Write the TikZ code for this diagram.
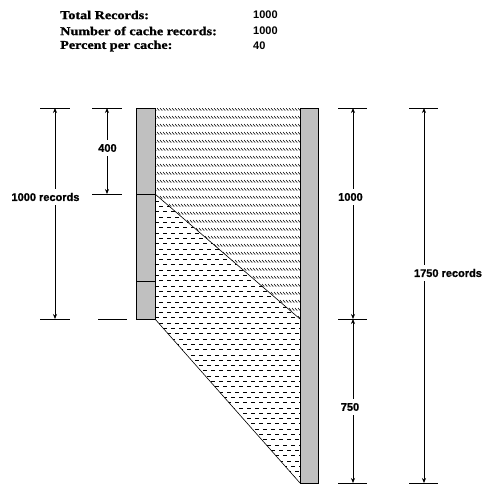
\documentclass[tikz,border=0pt]{standalone}
\usepackage{fontspec}
\setmainfont{Liberation Sans}
\newfontfamily\hdrfont[FakeStretch=1.18,FakeBold=1.2]{Liberation Serif}
\newfontfamily\lblfont[FakeBold=1.2]{Liberation Sans}
\usetikzlibrary{arrows.meta}
\definecolor{bargray}{RGB}{192,192,192}
\tikzset{
  bar/.style={draw=black, fill=bargray, line width=0.8pt},
  edge/.style={line width=0.6pt},
  extline/.style={line width=0.7pt},
  hatch/.style={line width=0.55pt},
  dashrow/.style={line width=0.85pt},
  dim/.style={line width=0.7pt, {Stealth[length=5pt,width=4pt]}-{Stealth[length=5pt,width=4pt]}},
  lbl/.style={fill=white, font=\lblfont\bfseries\fontsize{11}{12}\selectfont, inner xsep=1pt, inner ysep=4pt},
  hdr/.style={anchor=west, inner sep=0pt, font=\hdrfont\bfseries\fontsize{12}{13}\selectfont},
  val/.style={anchor=west, inner sep=0pt, font=\bfseries\fontsize{11}{12}\selectfont}
}
\begin{document}
\begin{tikzpicture}[x=1pt,y=-1pt]
\useasboundingbox (0,0) rectangle (493,485);
% header
\node[hdr] (h1) at (60,15) {Total Records:};
\node[hdr] (h2) at (60,31) {Number of cache records:};
\node[hdr] (h3) at (60,46) {Percent per cache:};
\node[val] (v1) at (253,15) {1000};
\node[val] (v2) at (253,31) {1000};
\node[val] (v3) at (253,46) {40};
% upper hatched region
\begin{scope}
\clip (155,108) -- (300,108) -- (300,319) -- (155,194) -- cycle;
\foreach \y in {108,116,...,320}
  \foreach \x in {154,157,...,300}
    \draw[hatch] (\x,\y) -- ++(2.2,2.6);
\end{scope}
% lower dashed region
\begin{scope}
\clip (155,194) -- (300,319) -- (300,483) -- (155,319) -- cycle;
\foreach \y [count=\i] in {196,201.3,...,484} {
  \pgfmathsetmacro{\ph}{mod(\i,2)*4}
  \draw[dashrow, dash pattern=on 4pt off 4pt, dash phase=\ph pt] (155,\y) -- (300,\y);
}
\end{scope}
\draw[edge] (155,194) -- (300,319);
\draw[edge] (155,319) -- (300,483);
% bars
\draw[bar] (136,108) rectangle (155,194);
\draw[bar] (136,194) rectangle (155,281);
\draw[bar] (136,281) rectangle (155,319);
\draw[bar] (300,108) rectangle (318,483);
% extension lines
\draw[extline] (40,108) -- (70,108);
\draw[extline] (40,319) -- (70,319);
\draw[extline] (92,108) -- (122,108);
\draw[extline] (92,194) -- (122,194);
\draw[extline] (98,319) -- (127,319);
\draw[extline] (338,108) -- (367,108);
\draw[extline] (338,319) -- (367,319);
\draw[extline] (338,483) -- (367,483);
\draw[extline] (409,108) -- (438,108);
\draw[extline] (409,483) -- (438,483);
% dimension coordinates
\coordinate (a1) at (55,108); \coordinate (a2) at (55,319);
\coordinate (b1) at (107,108); \coordinate (b2) at (107,194);
\coordinate (c1) at (353,108); \coordinate (c2) at (353,319); \coordinate (c3) at (353,483);
\coordinate (d1) at (424,108); \coordinate (d2) at (424,483);
\draw[dim] (a1) -- (a2);
\draw[dim] (b1) -- (b2);
\draw[dim] (c1) -- (c2);
\draw[dim] (c2) -- (c3);
\draw[dim] (d1) -- (d2);
\node[lbl] (la) at (45.5,197) {1000 records};
\node[lbl] (lb) at (107.5,148) {400};
\node[lbl] (lc) at (350.5,197) {1000};
\node[lbl] (lc2) at (350,407) {750};
\node[lbl] (ld) at (448,273) {1750 records};
\end{tikzpicture}
\end{document}
